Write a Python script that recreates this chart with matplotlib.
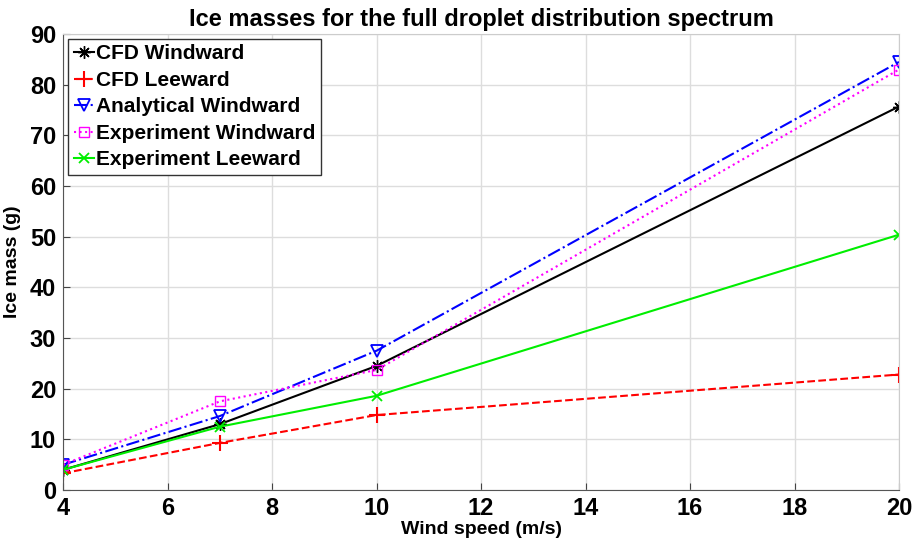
import numpy as np
import matplotlib.pyplot as plt

plt.rcParams['font.family'] = ['Liberation Sans', 'DejaVu Sans']

wind = [4, 7, 10, 20]
cfd_wind = [4.0, 13.0, 24.5, 75.7]
cfd_lee = [3.3, 9.3, 14.8, 22.8]
ana_wind = [5.0, 14.6, 27.5, 84.5]
exp_wind = [5.0, 17.5, 23.7, 83.0]
exp_lee = [4.0, 12.5, 18.6, 50.4]

fig = plt.figure(figsize=(9.15, 5.54), dpi=100)
ax = fig.add_axes([0.069, 0.1155, 0.9135, 0.823])

ax.plot(wind, cfd_wind, color='k', marker=(8, 2, 0), ms=9, lw=1.5, label='CFD Windward')
ax.plot(wind, cfd_lee, color='r', marker='+', ms=11, mew=1.5, lw=1.5, ls='--', label='CFD Leeward')
ax.plot(wind, ana_wind, color='b', marker='v', ms=9, mfc='none', mew=1.3, lw=1.5, ls='-.', label='Analytical Windward')
ax.plot(wind, exp_wind, color='magenta', marker='s', ms=7, mfc='none', lw=1.5, ls=':', label='Experiment Windward')
ax.plot(wind, exp_lee, color='#00ee00', marker='x', ms=7, mew=1.3, lw=1.5, label='Experiment Leeward')

ax.set_xlim(4, 20)
ax.set_ylim(0, 90)
ax.set_xticks(np.arange(4, 21, 2))
ax.set_yticks(np.arange(0, 91, 10))
ax.grid(True, color='#dddddd', lw=1)
ax.tick_params(direction='in', labelsize=17, length=5, color='#444444', pad=5)
for lab in ax.get_xticklabels() + ax.get_yticklabels():
    lab.set_fontweight('bold')
for s in ax.spines.values():
    s.set_color('#cccccc')
ax.spines['left'].set_color('#555555')
ax.spines['bottom'].set_color('#555555')

ax.set_xlabel('Wind speed (m/s)', fontsize=14, fontweight='bold', labelpad=1)
ax.set_ylabel('Ice mass (g)', fontsize=14, fontweight='bold', labelpad=6)
ax.set_title('Ice masses for the full droplet distribution spectrum', fontsize=17, fontweight='bold', pad=6)

leg = ax.legend(loc='upper left', prop={'size': 15, 'weight': 'bold'}, fancybox=False,
                edgecolor='#333333', framealpha=1, handlelength=1.0, handletextpad=0.1,
                borderpad=0.25, labelspacing=0.36, borderaxespad=0.25)
leg.get_frame().set_linewidth(1.0)

fig.savefig('out.png', dpi=100)
